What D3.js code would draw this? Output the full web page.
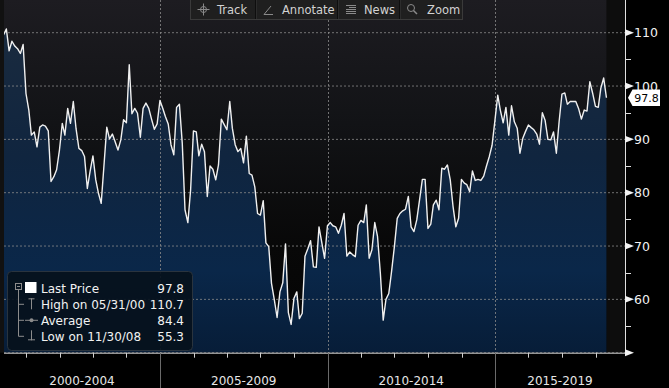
<!DOCTYPE html>
<html><head><meta charset="utf-8">
<script src="https://cdn.jsdelivr.net/npm/d3@7"></script>
<style>
html,body{margin:0;padding:0;background:#000;overflow:hidden}
svg{display:block;font-family:"DejaVu Sans",sans-serif}
</style></head>
<body><svg id="c" width="669" height="388"></svg>
<script>
// ---- data (monthly, month-end, Apr 2000 .. Apr 2018) ----
const startMonth = "2000-04";
const values = [
109.6,110.7,106.6,108.4,107.5,107.0,106.1,107.8,98.6,95.5,
90.8,91.4,88.6,92.3,92.7,92.5,91.6,82.1,83.0,84.3,
88.0,93.0,90.8,95.8,93.0,97.1,92.0,88.3,87.9,86.8,
80.8,84.0,86.9,82.4,80.0,78.0,85.0,92.3,90.1,91.0,
89.5,88.0,89.9,93.7,93.1,104.0,94.8,95.8,94.9,90.4,
95.8,96.8,95.8,93.8,91.9,92.9,97.3,95.8,94.3,92.9,
89.0,87.1,96.0,96.6,89.3,76.8,74.4,80.5,91.6,91.4,
86.9,89.1,87.7,79.3,85.0,84.4,82.4,85.2,93.8,92.8,
91.8,97.1,92.1,89.0,87.7,88.3,85.6,90.6,83.6,83.3,
81.1,76.1,75.8,78.5,70.6,69.9,63.0,59.9,56.6,61.4,
63.1,70.4,57.5,55.3,60.2,61.4,56.4,57.4,68.1,69.5,
71.0,66.1,66.0,73.6,70.6,67.7,73.8,74.4,73.8,73.6,
72.4,73.9,76.1,68.1,68.9,68.4,68.0,73.9,74.8,74.4,
77.7,67.7,69.3,74.4,71.8,64.9,56.1,60.0,61.1,65.2,
69.9,75.2,76.1,76.6,76.9,79.3,73.6,72.7,74.9,78.6,
82.5,82.5,73.3,74.1,77.7,78.6,76.8,84.6,84.4,85.2,
82.4,77.5,73.6,75.2,82.5,81.8,81.5,80.2,84.1,82.3,
82.5,82.3,83.1,85.0,86.8,88.9,93.5,98.3,95.5,93.1,
96.0,90.8,96.3,93.3,92.1,87.4,90.2,91.5,92.7,92.2,
91.8,91.0,89.1,95.0,93.6,90.0,89.9,91.4,87.4,93.3,
98.5,98.7,96.6,97.1,97.1,97.1,95.8,93.8,95.5,95.3,
100.8,98.7,96.2,96.0,99.6,101.5,97.8];
const yTicks = [60,70,80,90,100,110];
const yMinor = [55,65,75,85,95,105];
const periodLabels = ["2000-2004","2005-2009","2010-2014","2015-2019"];
const periodStarts = [2000,2005,2010,2015];
const toolbarItems = ["Track","Annotate","News","Zoom"];
const legendLabels = ["Last Price","High on 05/31/00","Average","Low on 11/30/08"];
const legendValues = ["97.8","110.7","84.4","55.3"];
const lastPrice = 97.8;

// ---- build dated series ----
const parseM = d3.timeParse("%Y-%m");
const m0 = parseM(startMonth);
const data = values.map((v,i)=>({date: d3.timeDay.offset(d3.timeMonth.offset(m0,i+1),-1), v}));

const svg = d3.select("#c");
const W=669,H=388, plotL=4, plotR=625, plotT=0, plotB=352.7;

const x = d3.scaleTime().domain([new Date(2000,0,1), new Date(2015,0,1)]).range([-7.5,495]);
const y = d3.scaleLinear().domain([50,110]).range([plotB,32.7]);

const defs = svg.append("defs");
const bg = defs.append("linearGradient").attr("id","bg").attr("x1",0).attr("y1",0).attr("x2",0).attr("y2",1);
bg.append("stop").attr("offset","0%").attr("stop-color","#1d1c21");
bg.append("stop").attr("offset","35%").attr("stop-color","#121316");
bg.append("stop").attr("offset","70%").attr("stop-color","#080808");
bg.append("stop").attr("offset","100%").attr("stop-color","#040404");
const ag = defs.append("linearGradient").attr("id","ag").attr("gradientUnits","userSpaceOnUse")
  .attr("x1",0).attr("y1",25).attr("x2",0).attr("y2",plotB);
ag.append("stop").attr("offset","0%").attr("stop-color","#1a2b3f");
ag.append("stop").attr("offset","40%").attr("stop-color","#10253f");
ag.append("stop").attr("offset","75%").attr("stop-color","#0a2749");
ag.append("stop").attr("offset","100%").attr("stop-color","#071d38");
defs.append("clipPath").attr("id","clip").append("rect")
  .attr("x",plotL).attr("y",plotT).attr("width",plotR-plotL).attr("height",plotB-plotT);

// background
svg.append("rect").attr("x",0).attr("y",0).attr("width",W).attr("height",H).attr("fill","#000");
svg.append("rect").attr("x",0).attr("y",0).attr("width",plotL).attr("height",plotB).attr("fill","#111");
svg.append("rect").attr("x",plotL).attr("y",plotT).attr("width",plotR-plotL).attr("height",plotB-plotT).attr("fill","url(#bg)");
const lastX = x(data[data.length-1].date);
svg.append("rect").attr("x",lastX).attr("y",plotT).attr("width",plotR-lastX).attr("height",plotB-plotT).attr("fill","#0d0d0d");

const g = svg.append("g").attr("clip-path","url(#clip)");
g.append("path").datum(data)
  .attr("d", d3.area().x(d=>x(d.date)).y0(plotB).y1(d=>y(d.v)))
  .attr("fill","url(#ag)");

// grid
g.selectAll(".hg").data(yTicks.concat([50])).join("line")
  .attr("x1",plotL).attr("x2",plotR).attr("y1",d=>y(d)).attr("y2",d=>y(d))
  .attr("stroke","#8a8a8a").attr("stroke-width",1).attr("stroke-dasharray","2,2").attr("opacity",0.8);
const seps = periodStarts.slice(1).map(yr=>new Date(yr,0,1));
g.selectAll(".vg").data(seps).join("line")
  .attr("x1",d=>Math.round(x(d))+0.5).attr("x2",d=>Math.round(x(d))+0.5).attr("y1",plotT).attr("y2",plotB)
  .attr("stroke","#8a8a8a").attr("stroke-dasharray","2,2").attr("opacity",0.8);

// line
g.append("path").datum(data)
  .attr("d", d3.line().x(d=>x(d.date)).y(d=>y(d.v)))
  .attr("fill","none").attr("stroke","#f0f0f0").attr("stroke-width",1.4).attr("stroke-linejoin","round");

// x axis
svg.append("line").attr("x1",plotL).attr("x2",plotR).attr("y1",plotB+0.5).attr("y2",plotB+0.5).attr("stroke","#d8d8d8");
const years = d3.range(2001,2019).map(yr=>new Date(yr,0,1));
svg.selectAll(".xt").data(years).join("line")
  .attr("x1",d=>Math.round(x(d))+0.5).attr("x2",d=>Math.round(x(d))+0.5).attr("y1",plotB).attr("y2",plotB+5)
  .attr("stroke","#cfcfcf");
svg.selectAll(".xs").data(seps).join("line")
  .attr("x1",d=>Math.round(x(d))+0.5).attr("x2",d=>Math.round(x(d))+0.5).attr("y1",plotB).attr("y2",H)
  .attr("stroke","#6a6a6a");
svg.selectAll(".xl").data(periodLabels).join("text")
  .attr("x",(d,i)=>{const a=Math.max(plotL,x(new Date(periodStarts[i],0,1))); const b=Math.min(plotR,x(new Date(periodStarts[i]+5,0,1))); return (a+b)/2;})
  .attr("y",385).attr("text-anchor","middle").attr("fill","#e6e6e6").attr("font-size","12px").text(d=>d);

// y axis
svg.append("line").attr("x1",plotR+0.5).attr("x2",plotR+0.5).attr("y1",0).attr("y2",plotB+1).attr("stroke","#e0e0e0");
svg.selectAll(".ym").data(yMinor).join("line")
  .attr("x1",plotR).attr("x2",plotR+6).attr("y1",d=>Math.round(y(d))+0.5).attr("y2",d=>Math.round(y(d))+0.5).attr("stroke","#e0e0e0");
svg.selectAll(".ytri").data(yTicks.concat([50])).join("path")
  .attr("d",d=>{const yy=y(d);return `M${plotR},${yy-3.5}L${plotR+9},${yy}L${plotR},${yy+3.5}Z`;})
  .attr("fill","#f2f2f2");
svg.selectAll(".yl").data(yTicks).join("text")
  .attr("x",634).attr("y",d=>y(d)+4.5).attr("fill","#f2f2f2").attr("font-size","12.5px").text(d=>d);

// last price tag
const ly = y(lastPrice);
svg.append("path").attr("d",`M628,${ly}L632.5,${ly-8.3}L660,${ly-8.3}L660,${ly+8.3}L632.5,${ly+8.3}Z`).attr("fill","#fff");
svg.append("text").attr("x",646.5).attr("y",ly+4.2).attr("text-anchor","middle").attr("fill","#000").attr("font-size","11px").text(lastPrice.toFixed(1));

// toolbar
const tb = svg.append("g");
tb.append("rect").attr("x",190.5).attr("y",-1.5).attr("width",272).attr("height",21).attr("fill","#1f1f1f").attr("stroke","#3a3a3a");
[255,337,399].forEach(s=>{
  tb.append("line").attr("x1",s+0.5).attr("x2",s+0.5).attr("y1",0).attr("y2",19).attr("stroke","#0e0e0e");
  tb.append("line").attr("x1",s+1.5).attr("x2",s+1.5).attr("y1",0).attr("y2",19).attr("stroke","#2c2c2c");
});
const tbX=[217,282,364,427];
tb.selectAll("text").data(toolbarItems).join("text")
  .attr("x",(d,i)=>tbX[i]).attr("y",14).attr("fill","#d2d2d2").attr("font-size","11.5px").text(d=>d);
// icons
tb.append("circle").attr("cx",203.5).attr("cy",9.5).attr("r",3).attr("fill","none").attr("stroke","#8a8a8a");
tb.append("path").attr("d","M197.5,9.5H209.5M203.5,3.5V15.5").attr("stroke","#8a8a8a");
tb.append("path").attr("d","M264,14.5H273M264,14.5L271,6").attr("stroke","#8a8a8a").attr("fill","none");
tb.append("path").attr("d","M346,5.5H356M349,7.5H356M346,9.5H356M346,11.5H356M346,13.5H356").attr("stroke","#8a8a8a");
tb.append("circle").attr("cx",411).attr("cy",8).attr("r",3.5).attr("fill","none").attr("stroke","#8a8a8a");
tb.append("path").attr("d","M413.5,10.5L417,14").attr("stroke","#8a8a8a").attr("stroke-width",1.5);

// legend
const lg = svg.append("g");
lg.append("rect").attr("x",7.5).attr("y",271.5).attr("width",185).attr("height",79).attr("rx",4)
  .attr("fill","#06111c").attr("fill-opacity",0.92).attr("stroke","#2a343e");
const rowY=[288.3,304.3,320.3,336.3];
lg.selectAll(".ll").data(legendLabels).join("text")
  .attr("x",41).attr("y",(d,i)=>rowY[i]+4.5).attr("fill","#f2f2f2").attr("font-size","12px").text(d=>d);
lg.selectAll(".lv").data(legendValues).join("text")
  .attr("x",184).attr("y",(d,i)=>rowY[i]+4.5).attr("text-anchor","end").attr("fill","#f2f2f2").attr("font-size","12px").text(d=>d);
const tc="#8c8c8c";
lg.append("rect").attr("x",15.5).attr("y",283.5).attr("width",6).attr("height",6).attr("fill","none").attr("stroke",tc);
lg.append("path").attr("d","M17,286.5H20").attr("stroke",tc);
lg.append("rect").attr("x",25).attr("y",282).attr("width",11.5).attr("height",11).attr("fill","#fff");
lg.append("path").attr("d",`M18.5,290V${rowY[3]}H24M18.5,${rowY[1]}H24M18.5,${rowY[2]}H24`).attr("stroke",tc).attr("fill","none");
lg.append("path").attr("d",`M31.5,${rowY[1]-6}V${rowY[1]+5}M28.5,${rowY[1]-5.5}H34.5`).attr("stroke",tc);
lg.append("path").attr("d",`M25,${rowY[2]}H38`).attr("stroke",tc);
lg.append("circle").attr("cx",31.5).attr("cy",rowY[2]).attr("r",2).attr("fill",tc);
lg.append("path").attr("d",`M31.5,${rowY[3]-6}V${rowY[3]+4}M28,${rowY[3]+3.5}H35`).attr("stroke",tc);
</script></body></html>
